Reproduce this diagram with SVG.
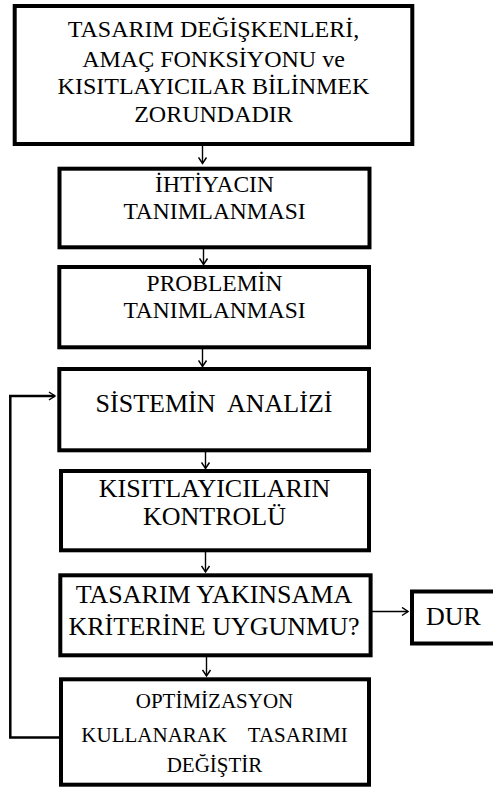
<svg xmlns="http://www.w3.org/2000/svg" width="493" height="789" viewBox="0 0 493 789">
<defs>
<style>
.box{fill:#fff;stroke:#000;stroke-width:4}
.t{fill:#000;text-anchor:middle;white-space:pre}
.c{fill:none;stroke:#000;stroke-width:1.4}
.fb{fill:none;stroke:#000;stroke-width:2.5}
</style>
<marker id="ah" markerWidth="10" markerHeight="10" refX="8" refY="5" orient="auto" markerUnits="userSpaceOnUse">
<path d="M2,1 L8,5 L2,9" fill="none" stroke="#000" stroke-width="1.5"/>
</marker>
</defs>
<rect width="493" height="789" fill="#fff"/>
<g id="connectors">
<line class="c" x1="202.5" y1="146" x2="202.5" y2="163.5" marker-end="url(#ah)"/>
<line class="c" x1="203.5" y1="249" x2="203.5" y2="264.5" marker-end="url(#ah)"/>
<line class="c" x1="202.5" y1="349" x2="202.5" y2="366.5" marker-end="url(#ah)"/>
<line class="c" x1="205.5" y1="452" x2="205.5" y2="468.5" marker-end="url(#ah)"/>
<line class="c" x1="205.5" y1="552" x2="205.5" y2="572" marker-end="url(#ah)"/>
<line class="c" x1="206.5" y1="657" x2="206.5" y2="676" marker-end="url(#ah)"/>
<line class="c" x1="372" y1="611.5" x2="408" y2="611.5" marker-end="url(#ah)"/>
<path class="fb" d="M59,737.5 H10.3 V396"/>
<line class="fb" x1="9" y1="396" x2="55" y2="396" marker-end="url(#ah)"/>
</g>
<g font-family="'Liberation Serif', 'Times New Roman', serif">
<g id="n1">
<rect class="box" x="14.7" y="6" width="397.6" height="138"/>
<text class="t" font-size="24" x="213.5" y="37">TASARIM DEĞİŞKENLERİ,</text>
<text class="t" font-size="24" x="213.5" y="66.5">AMAÇ FONKSİYONU ve</text>
<text class="t" font-size="24" x="213.5" y="94">KISITLAYICILAR BİLİNMEK</text>
<text class="t" font-size="24" x="213.5" y="121.5">ZORUNDADIR</text>
</g>
<g id="n2">
<rect class="box" x="59.5" y="168.7" width="310" height="78.6"/>
<text class="t" font-size="23.5" x="214.5" y="192">İHTİYACIN</text>
<text class="t" font-size="23.5" x="214.5" y="219">TANIMLANMASI</text>
</g>
<g id="n3">
<rect class="box" x="59.3" y="267" width="309.7" height="80.3"/>
<text class="t" font-size="23.5" x="214.5" y="291">PROBLEMİN</text>
<text class="t" font-size="23.5" x="214.5" y="318">TANIMLANMASI</text>
</g>
<g id="n4">
<rect class="box" x="59.3" y="369" width="309.7" height="81.3"/>
<text class="t" font-size="26" x="214" y="412">SİSTEMİN  ANALİZİ</text>
</g>
<g id="n5">
<rect class="box" x="61" y="471" width="308" height="79.3"/>
<text class="t" font-size="26" x="214.5" y="497">KISITLAYICILARIN</text>
<text class="t" font-size="26" x="214.5" y="525">KONTROLÜ</text>
</g>
<g id="n6">
<rect class="box" x="60.3" y="575.3" width="310.3" height="80"/>
<text class="t" font-size="26" x="214" y="603">TASARIM YAKINSAMA</text>
<text class="t" font-size="26" x="214" y="635">KRİTERİNE UYGUNMU?</text>
</g>
<g id="n7">
<rect class="box" x="61" y="679.3" width="308" height="105.4"/>
<text class="t" font-size="21" x="214.5" y="708">OPTİMİZASYON</text>
<text class="t" font-size="21" x="214.5" y="742">KULLANARAK    TASARIMI</text>
<text class="t" font-size="21" x="214.5" y="772">DEĞİŞTİR</text>
</g>
<g id="n8">
<rect class="box" x="412" y="591.5" width="90" height="52"/>
<text class="t" font-size="26" x="426" y="625" style="text-anchor:start">DUR</text>
</g>
</g>
</svg>
